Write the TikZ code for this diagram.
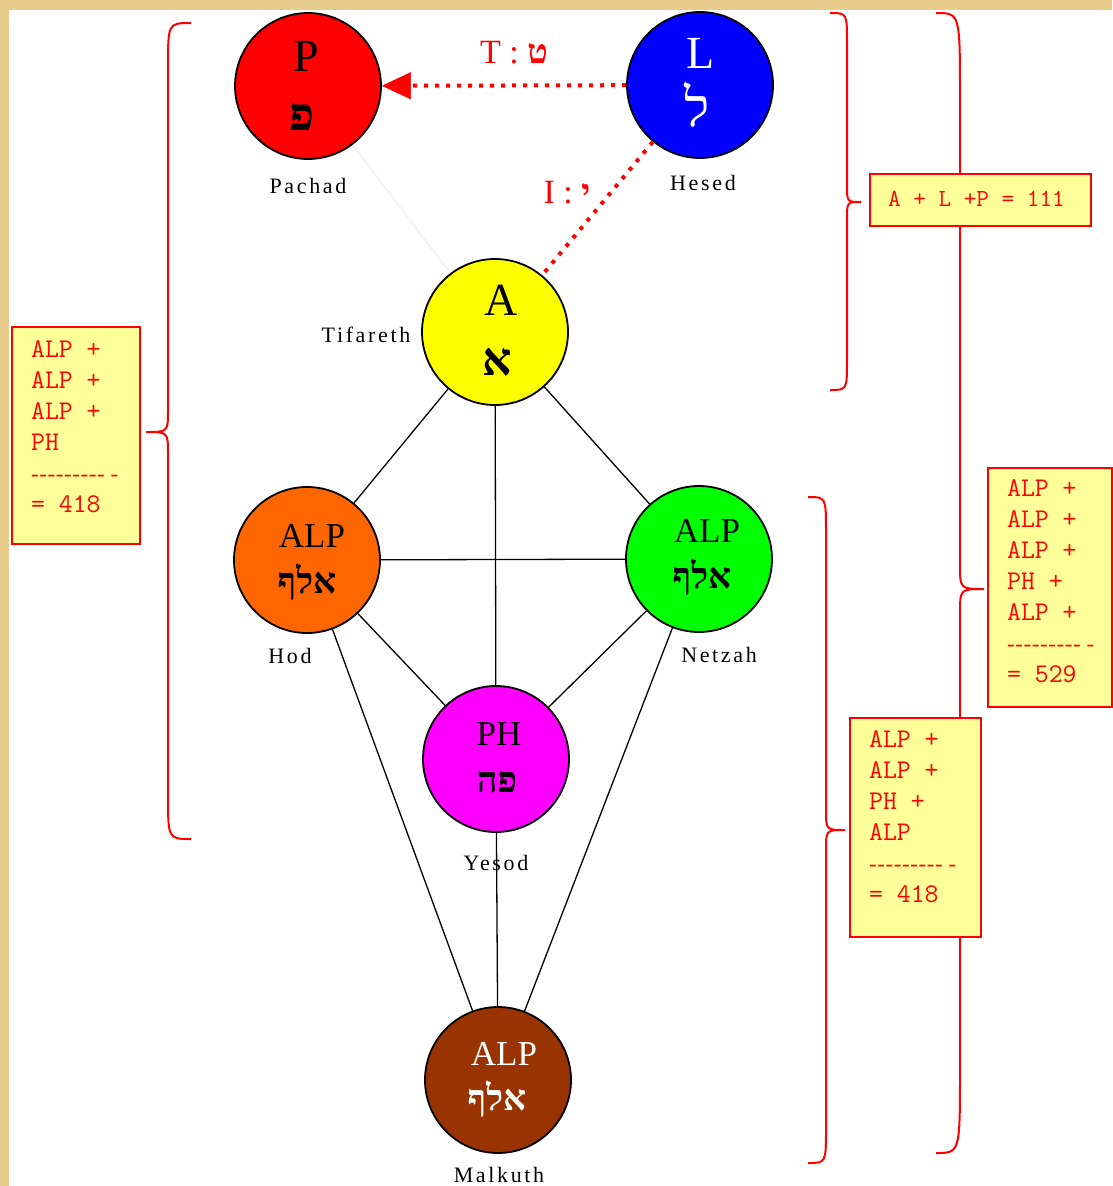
\documentclass[tikz,border=0pt]{standalone}
\usepackage{fontspec}
\setmainfont{Liberation Serif}
\newfontfamily\hebfont[Script=Hebrew]{Liberation Serif}
\newfontfamily\lblfont[LetterSpace=12]{Liberation Serif}
\TeXXeTstate=1
\usetikzlibrary{arrows.meta}
\definecolor{parch}{RGB}{232,204,140}
\definecolor{sefred}{RGB}{255,0,0}
\definecolor{sefblue}{RGB}{0,0,255}
\definecolor{sefyellow}{RGB}{255,255,0}
\definecolor{seforange}{RGB}{255,102,0}
\definecolor{sefgreen}{RGB}{0,255,0}
\definecolor{sefmagenta}{RGB}{255,0,255}
\definecolor{sefbrown}{RGB}{153,51,0}
\definecolor{boxyellow}{RGB}{255,255,153}
\newcommand\boxfont{\ttfamily\addfontfeature{FakeBold=1.2}}
\newcommand\dashrow{{\rmfamily\fontsize{23}{31}\selectfont -\kern0.6pt-\kern0.6pt-\kern0.6pt-\kern0.6pt-\kern0.6pt-\kern0.6pt-\kern0.6pt-\kern0.6pt- -}}
% #1 end x, #2 top y, #3 spine x, #4 tip x, #5 tip y, #6 bottom y, #7 end curl, #8 tip curl
\newcommand\bracepath[8]{%
  \draw[brc] (#1,#2) .. controls (#3,#2) .. (#3,#2+#7) -- (#3,#5-#8)
    .. controls (#3,#5) .. (#4,#5) .. controls (#3,#5) .. (#3,#5+#8)
    -- (#3,#6-#7) .. controls (#3,#6) .. (#1,#6);}
\begin{document}
\begin{tikzpicture}[x=1pt,y=-1pt,
  sefira/.style={circle,draw=black,line width=1.8pt,minimum size=146pt,inner sep=0pt},
  conn/.style={black,line width=1.3pt},
  faint/.style={black!6,line width=1.3pt},
  dotline/.style={sefred,line width=4pt,dash pattern=on 4pt off 7pt},
  brc/.style={sefred,line width=2pt},
  sumbox/.style={draw=sefred,fill=boxyellow,line width=2.2pt,inner sep=0pt},
  sumtxt/.style={text=sefred,font={\boxfont\fontsize{27}{31}\selectfont},align=left,inner sep=0pt,anchor=west},
  nm/.style={font={\lblfont\fontsize{22}{26}\selectfont},anchor=base},
  bigtxt/.style={font={\fontsize{46}{50}\selectfont},anchor=base},
  midtxt/.style={font={\fontsize{35}{40}\selectfont},anchor=base},
  hbig/.style={font={\hebfont\bfseries\fontsize{46}{50}\selectfont},anchor=base},
  hmid/.style={font={\hebfont\bfseries\fontsize{36}{40}\selectfont},anchor=base},
  redlbl/.style={text=sefred,font={\fontsize{34}{38}\selectfont},anchor=base}]
\useasboundingbox (0,0) rectangle (1112,1186);
\fill[white] (0,0) rectangle (1112,1186);
\fill[parch] (0,0) rectangle (1112,10);
\fill[parch] (0,0) rectangle (9,1186);

% sefirot
\node[sefira,fill=sefred] (pachad) at (308,86) {};
\node[sefira,fill=sefblue] (hesed) at (700,85) {};
\node[sefira,fill=sefyellow] (tifareth) at (495,332) {};
\node[sefira,fill=seforange] (hod) at (307,560) {};
\node[sefira,fill=sefgreen] (netzah) at (699,559) {};
\node[sefira,fill=sefmagenta] (yesod) at (496,759) {};
\node[sefira,fill=sefbrown] (malkuth) at (498,1080) {};

% connectors
\draw[faint] (pachad) -- (tifareth);
\draw[conn] (tifareth) -- (hod);
\draw[conn] (tifareth) -- (netzah);
\draw[conn] (tifareth) -- (yesod);
\draw[conn] (hod) -- (netzah);
\draw[conn] (hod) -- (yesod);
\draw[conn] (netzah) -- (yesod);
\draw[conn] (hod) -- (malkuth);
\draw[conn] (netzah) -- (malkuth);
\draw[conn] (yesod) -- (malkuth);
\draw[dotline,-{Triangle[length=29pt,width=27pt,line width=0.5pt]}] (hesed) -- (pachad);
\draw[dotline] (hesed) -- (tifareth);

% texts in circles
\node[bigtxt] (pachad-lat) at (306,71) {P};
\node[hbig] (pachad-heb) at (302,130) {פ};
\node[bigtxt,text=white] (hesed-lat) at (701,68) {L};
\node[font={\hebfont\fontsize{54}{58}\selectfont},anchor=base,text=white] (hesed-heb) at (697,126) {ל};
\node[bigtxt] (tifareth-lat) at (501,315) {A};
\node[hbig] (tifareth-heb) at (497,375) {א};
\node[midtxt] (hod-lat) at (312,547) {ALP};
\node[hmid] (hod-heb) at (307,593) {\beginR אלף\endR};
\node[midtxt] (netzah-lat) at (707,542) {ALP};
\node[hmid] (netzah-heb) at (702,588) {\beginR אלף\endR};
\node[midtxt] (yesod-lat) at (499,745) {PH};
\node[hmid] (yesod-heb) at (497,792) {\beginR פה\endR};
\node[midtxt,text=white] (malkuth-lat) at (504,1065) {ALP};
\node[hmid,text=white] (malkuth-heb) at (497,1110) {\beginR אלף\endR};

% names
\node[nm] (pachad-name) at (308,193) {Pachad};
\node[nm] (hesed-name) at (703,190) {Hesed};
\node[nm] (tifareth-name) at (366,342) {Tifareth};
\node[nm] (hod-name) at (290,663) {Hod};
\node[nm] (netzah-name) at (719,662) {Netzah};
\node[nm] (yesod-name) at (496,870) {Yesod};
\node[nm] (malkuth-name) at (499,1182) {Malkuth};

% red path labels
\node[redlbl] (tet-lbl) at (514,63) {T : {\hebfont\bfseries ט}};
\node[redlbl] (yod-lbl) at (567,203) {I : {\hebfont\bfseries י}};

% braces
\bracepath{191}{23}{168}{146}{432}{839}{45}{22}
\bracepath{830}{13}{847}{861}{202}{390}{30}{17}
\bracepath{936}{13}{960}{984}{589}{1153}{85}{25}
\bracepath{808}{497}{826}{845}{830}{1163}{35}{20}

% sum boxes
\node[sumbox,minimum width=128pt,minimum height=217pt] (box1) at (76,435.5) {};
\node[sumtxt,xshift=20pt,yshift=8.5pt] (box1-txt) at (box1.west) {ALP +\\ALP +\\ALP +\\PH\\\dashrow\\= 418};
\node[sumbox,minimum width=221pt,minimum height=52pt] (box2) at (980.5,200) {};
\node[sumtxt,font={\boxfont\fontsize{24.5}{28}\selectfont},xshift=19pt,yshift=1pt] (box2-txt) at (box2.west) {A + L +P = 111};
\node[sumbox,minimum width=124pt,minimum height=239pt] (box3) at (1050,587.5) {};
\node[sumtxt,xshift=20pt,yshift=6pt] (box3-txt) at (box3.west) {ALP +\\ALP +\\ALP +\\PH +\\ALP +\\\dashrow\\= 529};
\node[sumbox,minimum width=131pt,minimum height=219pt] (box4) at (915.5,827.5) {};
\node[sumtxt,xshift=20pt,yshift=10.5pt] (box4-txt) at (box4.west) {ALP +\\ALP +\\PH +\\ALP\\\dashrow\\= 418};
\end{tikzpicture}
\end{document}
